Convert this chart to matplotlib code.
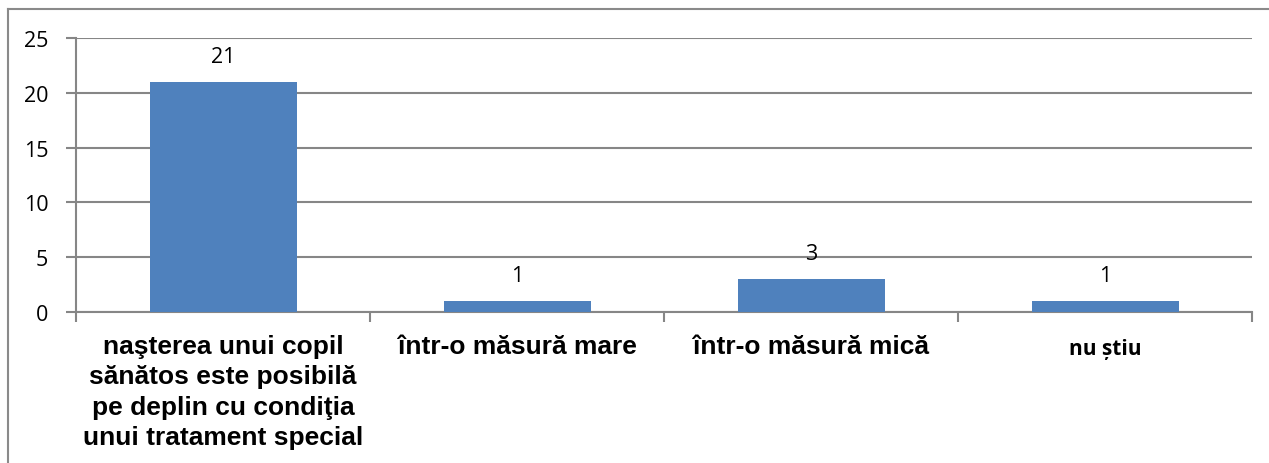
import matplotlib
matplotlib.use("Agg")
import matplotlib.pyplot as plt
from matplotlib.lines import Line2D

categories = [
    "naşterea unui copil\nsănătos este posibilă\npe deplin cu condiţia\nunui tratament special",
    "într-o măsură mare",
    "într-o măsură mică",
    "nu știu",
]
values = [21, 1, 3, 1]
y_ticks = [0, 5, 10, 15, 20, 25]

W, H = 1269, 464
fig = plt.figure(figsize=(W / 100, H / 100), dpi=100)
ax = fig.add_axes([76 / W, 1 - 313 / H, (1252 - 76) / W, (313 - 39) / H])

grid_col = "#868686"
bar_col = "#4F81BD"

x = list(range(len(categories)))
bars = ax.bar(x, values, width=0.5, color=bar_col, zorder=3)
ax.bar_label(bars, labels=[str(v) for v in values], padding=11,
             fontsize=15.5, family="Open Sans", color="black")

ax.set_xlim(-0.5, len(categories) - 0.5)
ax.set_ylim(0, 25)
ax.set_yticks(y_ticks)
ax.set_yticklabels([str(t) for t in y_ticks], family="Open Sans", fontsize=15.5)
ax.yaxis.grid(True, color=grid_col, linewidth=1.5, zorder=0)
ax.set_axisbelow(True)

# category boundary ticks on the x axis
ax.set_xticks([i - 0.5 for i in range(len(categories) + 1)])
ax.set_xticklabels([])
ax.tick_params(axis="x", direction="out", length=7, width=1.5, color=grid_col)
ax.tick_params(axis="y", direction="out", length=7, width=1.5, color=grid_col, pad=13)

for side in ("top", "right"):
    ax.spines[side].set_visible(False)
for side in ("left", "bottom"):
    ax.spines[side].set_color(grid_col)
    ax.spines[side].set_linewidth(1.5)

# category labels below the axis
for i, lab in enumerate(categories):
    if lab == "nu știu":
        ax.annotate(lab, xy=(i, 0), xycoords="data", xytext=(0, -19),
                    textcoords="offset points", ha="center", va="top",
                    fontsize=15, fontweight="bold", family="Open Sans")
    else:
        ax.annotate(lab, xy=(i, 0), xycoords="data", xytext=(0, -16),
                    textcoords="offset points", ha="center", va="top",
                    fontsize=19, fontweight="bold", family="Liberation Sans",
                    linespacing=1.33)

# outer frame (left and top edges)
fx = 7.5 / W
fy = 1 - 9.5 / H
fig.add_artist(Line2D([fx, fx], [0, fy], transform=fig.transFigure,
                      color="#8a8a8a", linewidth=1.5))
fig.add_artist(Line2D([fx, 1], [fy, fy], transform=fig.transFigure,
                      color="#8a8a8a", linewidth=1.5))

fig.savefig("out.png", dpi=100)
